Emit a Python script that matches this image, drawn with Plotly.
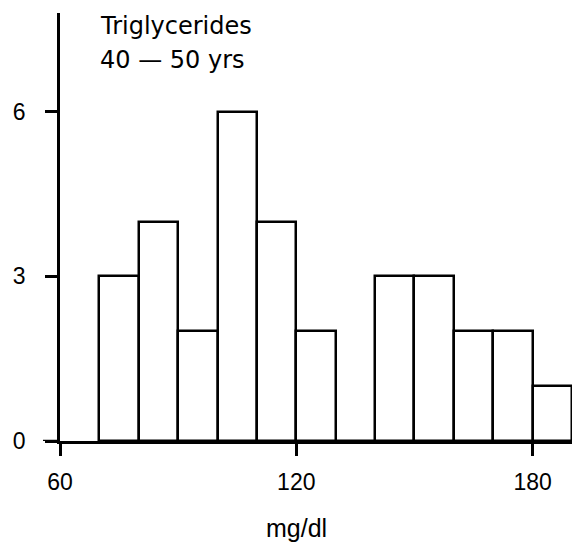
import plotly.graph_objects as go

# Histogram bins (mg/dl), width 10
bin_left = [70, 80, 90, 100, 110, 120, 130, 140, 150, 160, 170, 180]
counts = [3, 4, 2, 6, 4, 2, 0, 3, 3, 2, 2, 1]
bin_width = 10
x_ticks = [60, 120, 180]
y_ticks = [0, 3, 6]
title_lines = ["Triglycerides", "40 \u2014 50 yrs"]
x_title = "mg/dl"

centers = [b + bin_width / 2 for b in bin_left]

fig = go.Figure()
fig.add_trace(go.Bar(
    x=centers, y=counts, width=[bin_width] * len(centers),
    marker=dict(color="white", line=dict(color="black", width=2.5)),
    showlegend=False, hoverinfo="skip",
))

font_main = "Liberation Sans, Arial, sans-serif"

fig.update_layout(
    width=575, height=544,
    margin=dict(l=60, r=3, t=13, b=103),
    paper_bgcolor="white", plot_bgcolor="white",
    font=dict(family=font_main, size=23, color="black"),
    bargap=0,
    xaxis=dict(
        range=[60, 190], tickvals=x_ticks, ticktext=[str(v) for v in x_ticks],
        showline=True, linecolor="black", linewidth=2.5,
        ticks="outside", ticklen=12, tickwidth=2.5, tickcolor="black",
        showgrid=False, zeroline=False, ticklabelstandoff=7,
    ),
    yaxis=dict(
        range=[0, 7.8], tickvals=y_ticks, ticktext=[str(v) for v in y_ticks],
        showline=True, linecolor="black", linewidth=2.5,
        ticks="outside", ticklen=12, tickwidth=2.5, tickcolor="black",
        showgrid=False, zeroline=False, ticklabelstandoff=15,
    ),
)

# left extension of the x axis line
fig.add_shape(type="line", xref="paper", yref="y", x0=-17 / 512, x1=0, y0=0, y1=0,
              line=dict(color="black", width=2.5))

fig.add_annotation(x=69.7, y=0.970, xref="x", yref="paper", text=title_lines[0],
                   showarrow=False, xanchor="left", yanchor="middle",
                   font=dict(family="DejaVu Sans, sans-serif", size=24))
fig.add_annotation(x=69.7, y=0.890, xref="x", yref="paper", text=title_lines[1],
                   showarrow=False, xanchor="left", yanchor="middle",
                   font=dict(family="DejaVu Sans, sans-serif", size=24))
fig.add_annotation(x=120, y=-0.203, xref="x", yref="paper", text=x_title,
                   showarrow=False, xanchor="center", yanchor="middle",
                   font=dict(family=font_main, size=25))

fig.write_html("out.html")
